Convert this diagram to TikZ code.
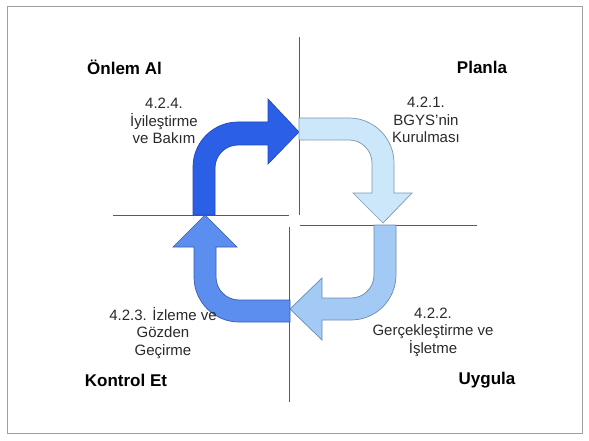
\documentclass[tikz,border=0pt]{standalone}
\usepackage{fontspec}
\setmainfont{Liberation Sans}
\definecolor{frame}{HTML}{A0A0A0}
\definecolor{axis}{HTML}{5A5A5A}
\definecolor{txt}{HTML}{2A2A2A}
\definecolor{fillA}{HTML}{2B5FE6}
\definecolor{lineA}{HTML}{2248C0}
\definecolor{fillB}{HTML}{CDE7FA}
\definecolor{lineB}{HTML}{7C98B0}
\definecolor{fillC}{HTML}{A3CAF5}
\definecolor{lineC}{HTML}{6A8CB4}
\definecolor{fillD}{HTML}{5C8EF0}
\definecolor{lineD}{HTML}{3A5CA8}
\begin{document}
\begin{tikzpicture}[x=1pt,y=-1pt,
  axisline/.style={draw=axis,line width=0.8pt},
  bentarrow/.style={line width=0.7pt,line join=miter},
  title/.style={font=\fontsize{17}{20}\selectfont\bfseries,text=black,inner sep=0pt},
  label/.style={font=\fontsize{15}{17.5}\selectfont,text=txt,align=center,inner sep=0pt}]
\useasboundingbox (0,0) rectangle (589,441);
\fill[white] (0,0) rectangle (589,441);
\draw[frame,line width=1pt] (7,7) rectangle (582,433);
% quadrant lines
\coordinate (vt1) at (299,37); \coordinate (vt2) at (299,215);
\coordinate (hl1) at (113,215); \coordinate (hl2) at (289,215);
\coordinate (hr1) at (300,225); \coordinate (hr2) at (477,225);
\coordinate (vb1) at (289,227); \coordinate (vb2) at (289,402);
\draw[axisline] (vt1) -- (vt2);
\draw[axisline] (hl1) -- (hl2);
\draw[axisline] (hr1) -- (hr2);
\draw[axisline] (vb1) -- (vb2);
% arrow A (4.2.4)
\draw[bentarrow,fill=fillA,draw=lineA] (193,215) -- (193,167) .. controls (193,142.15) and (213.15,122) .. (238,122) -- (268,122) -- (268,99) -- (299,132) -- (268,164) -- (268,145) -- (238,145) .. controls (225.3,145) and (215,155.3) .. (215,168) -- (215,215) -- cycle;
% arrow B (4.2.1)
\draw[bentarrow,fill=fillB,draw=lineB] (299,118) -- (349,118) .. controls (373.85,118) and (394,138.15) .. (394,163) -- (394,193) -- (412,193) -- (383,223) -- (353,193) -- (372,193) -- (372,163) .. controls (372,150.3) and (361.7,140) .. (349,140) -- (299,140) -- cycle;
% arrow C (4.2.2)
\draw[bentarrow,fill=fillC,draw=lineC] (374,225) -- (396,225) -- (396,275) .. controls (396,299.85) and (375.85,320) .. (351,320) -- (322,320) -- (322,340) -- (290,309) -- (322,278) -- (322,298) -- (351,298) .. controls (363.7,298) and (374,287.7) .. (374,275) -- cycle;
% arrow D (4.2.3)
\draw[bentarrow,fill=fillD,draw=lineD] (290,300) -- (290,322) -- (239,322) .. controls (214.15,322) and (194,301.85) .. (194,277) -- (194,247) -- (173,247) -- (205,215) -- (237,247) -- (216,247) -- (216,277) .. controls (216,289.7) and (226.3,300) .. (239,300) -- cycle;
% titles
\node[title] (onlem) at (124.5,67) {Önlem Al};
\node[title] (planla) at (482,67) {Planla};
\node[title] (kontrol) at (126,380) {Kontrol Et};
\node[title] (uygula) at (487,380) {Uygula};
% labels
\node[label] (l424) at (164,121) {4.2.4.\\İyileştirme\\ve Bakım};
\node[label] (l421) at (426,120) {4.2.1.\\BGYS'nin\\Kurulması};
\node[label] (l423) at (163,333) {4.2.3. İzleme ve\\Gözden\\Geçirme};
\node[label] (l422) at (433,332) {4.2.2.\\Gerçekleştirme ve\\İşletme};
\end{tikzpicture}
\end{document}
